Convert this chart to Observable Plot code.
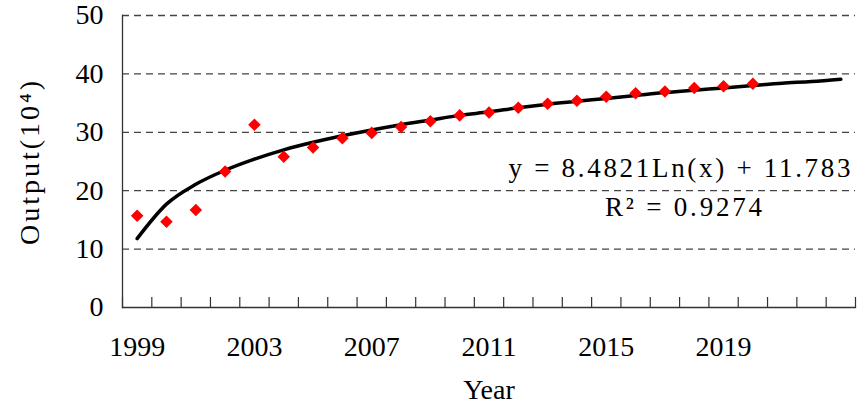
<!DOCTYPE html>
<html><head><meta charset="utf-8">
<script src="https://cdn.jsdelivr.net/npm/d3@7"></script>
<script src="https://cdn.jsdelivr.net/npm/@observablehq/plot@0.6"></script>
<style>body{margin:0;background:#fff}</style>
</head><body><div id="chart"></div>
<script>
// Observed data (red diamonds)
const years = [1999,2000,2001,2002,2003,2004,2005,2006,2007,2008,2009,2010,2011,2012,2013,2014,2015,2016,2017,2018,2019,2020];
const output = [15.7,14.7,16.7,23.3,31.3,25.8,27.4,29.0,29.9,30.9,31.9,32.9,33.4,34.2,34.9,35.4,36.1,36.7,37.0,37.6,37.9,38.3];
// Logarithmic trend line (1999–2023)
const trendYears = [1999,2000,2001,2002,2003,2004,2005,2006,2007,2008,2009,2010,2011,2012,2013,2014,2015,2016,2017,2018,2019,2020,2021,2022,2023];
const trendValues = [11.8,17.7,21.1,23.5,25.4,27.0,28.3,29.4,30.4,31.3,32.1,32.9,33.5,34.2,34.8,35.3,35.8,36.3,36.8,37.2,37.6,38.0,38.4,38.7,39.1];
const xTickLabels = [1999,2003,2007,2011,2015,2019];
const yTicks = [0,10,20,30,40,50];
const equationText = "y = 8.4821Ln(x) + 11.783";
const r2Text = "R\u00B2 = 0.9274";
const yTitle = "Output(10\u2074)";
const xTitle = "Year";

const points = years.map((y, i) => ({year: y, value: output[i]}));
const trend = trendYears.map((y, i) => ({year: y, value: trendValues[i]}));
const boundaries = trendYears.map(y => y - 0.5).concat([trendYears[trendYears.length - 1] + 0.5]);

const diamond = {
  draw(ctx, size) {
    const s = Math.sqrt(size / 2);
    ctx.moveTo(0, -s); ctx.lineTo(s, 0); ctx.lineTo(0, s); ctx.lineTo(-s, 0); ctx.closePath();
  }
};

const font = "'Liberation Serif', 'DejaVu Serif', serif";

const chart = Plot.plot({
  width: 862, height: 404,
  marginLeft: 122, marginRight: 7, marginTop: 15, marginBottom: 97,
  style: {fontFamily: font, fontSize: "28px", color: "#000", background: "#fff", overflow: "visible"},
  x: {domain: [boundaries[0], boundaries[boundaries.length - 1]]},
  y: {domain: [0, 50]},
  marks: [
    Plot.gridY(yTicks.filter(d => d > 0), {stroke: "#444", strokeOpacity: 1, strokeDasharray: "7,5", strokeWidth: 1.3}),
    Plot.axisY(yTicks, {tickSize: 0, tickPadding: 19, label: null, fontSize: 28}),
    Plot.axisX(xTickLabels, {tickSize: 0, tickPadding: 29, tickFormat: d => String(d), label: null, fontSize: 28}),
    Plot.ruleX(boundaries, {stroke: "#333", strokeWidth: 1.2, insetTop: 282}),
    Plot.frame({anchor: "left", stroke: "#333", strokeWidth: 1.3}),
    Plot.frame({anchor: "bottom", stroke: "#333", strokeWidth: 1.3}),
    Plot.line(trend, {x: "year", y: "value", stroke: "#000", strokeWidth: 3.5, curve: "monotone-x"}),
    Plot.dot(points, {x: "year", y: "value", symbol: diamond, r: 5, fill: "#ff0000", stroke: "none"}),
    Plot.text([equationText], {frameAnchor: "top-right", textAnchor: "end", lineAnchor: "middle", dx: -5, dy: 153, fontSize: 27, fill: "#000"}),
    Plot.text([r2Text], {frameAnchor: "top-right", textAnchor: "middle", lineAnchor: "middle", dx: -172, dy: 192, fontSize: 27, fill: "#000"}),
    Plot.text([yTitle], {frameAnchor: "left", rotate: -90, textAnchor: "middle", lineAnchor: "middle", dx: -92, fontSize: 28, fill: "#000"}),
    Plot.text([xTitle], {frameAnchor: "bottom", textAnchor: "middle", lineAnchor: "middle", dy: 83, fontSize: 28, fill: "#000"})
  ]
});
document.getElementById("chart").appendChild(chart);

// Stretch texts to the letter spacing seen in the reference
d3.select(chart).selectAll("text").each(function() {
  const t = this.textContent;
  if (t === equationText) { this.setAttribute("textLength", 342); this.setAttribute("lengthAdjust", "spacing"); }
  if (t === r2Text) { this.setAttribute("textLength", 157); this.setAttribute("lengthAdjust", "spacing"); }
  if (t === yTitle) { this.style.letterSpacing = "3px"; }
});
</script>
</body></html>
